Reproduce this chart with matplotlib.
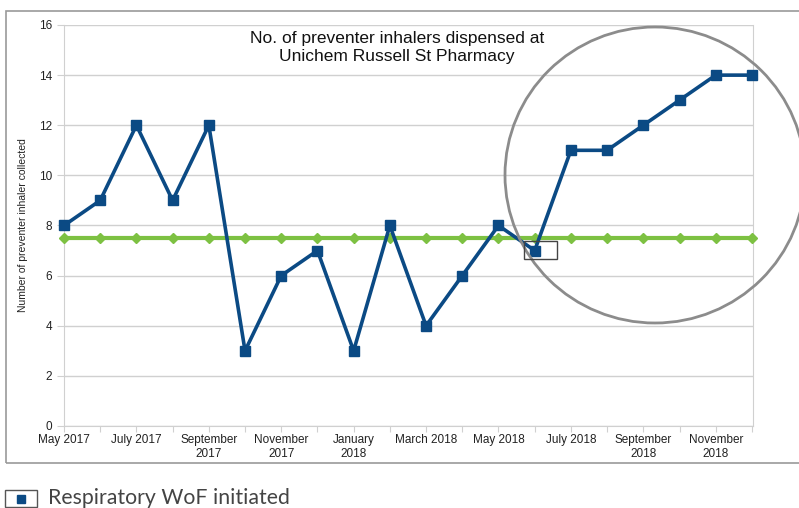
import matplotlib.pyplot as plt
from matplotlib.patches import Ellipse, Rectangle
from matplotlib.lines import Line2D

months = ["May 2017", "Jun 2017", "July 2017", "Aug 2017", "September\n2017", "Oct 2017",
          "November\n2017", "Dec 2017", "January\n2018", "Feb 2018", "March 2018", "Apr 2018",
          "May 2018", "Jun 2018", "July 2018", "Aug 2018", "September\n2018", "Oct 2018",
          "November\n2018", "Dec 2018"]
inhalers = [8, 9, 12, 9, 12, 3, 6, 7, 3, 8, 4, 6, 8, 7, 11, 11, 12, 13, 14, 14]
median = [7.5] * len(months)

BLUE = "#0b4a84"
GREEN = "#7dc142"
GRID = "#d0d0d0"

plt.rcParams["font.family"] = ["Liberation Sans", "DejaVu Sans"]

fig = plt.figure(figsize=(7.99, 5.08), dpi=100)
W, H = 799, 508
ax = fig.add_axes([64 / W, (H - 426) / H, (753 - 64) / W, (426 - 25) / H])

x = list(range(len(months)))
ax.plot(x, median, color=GREEN, lw=3, marker="D", ms=5.5, zorder=3, clip_on=False)
ax.plot(x, inhalers, color=BLUE, lw=2.6, marker="s", ms=6.5, zorder=4, clip_on=False)

ax.set_xlim(0, 19.03)
ax.set_ylim(0, 16)
ax.set_yticks(range(0, 17, 2))
ax.set_xticks(x)
ax.set_xticklabels([m if i % 2 == 0 else "" for i, m in enumerate(months)], fontsize=8.5,
                   color="#222222")
ax.tick_params(axis="y", labelsize=8.5, colors="#222222", length=5, color=GRID)
ax.tick_params(axis="x", length=4, color=GRID, pad=2)
ax.grid(axis="y", color=GRID, lw=1)
ax.set_axisbelow(True)
for s in ["left", "bottom", "right"]:
    ax.spines[s].set_color(GRID)
ax.spines["top"].set_visible(False)
ax.set_ylabel("Number of preventer inhaler collected", fontsize=7.5, color="#222222",
              labelpad=8)

fig.text(397 / W, 1 - 47 / H, "No. of preventer inhalers dispensed at\nUnichem Russell St Pharmacy",
         ha="center", va="center", fontsize=12.5, color="#111111", linespacing=1.25)

# outer chart frame
fig.patches.append(Rectangle((6 / W, (H - 463) / H), 800 / W, (463 - 11) / H,
                             transform=fig.transFigure, fill=False, ec="#9a9a9a", lw=1.2))

# highlight circle and box
fig.patches.append(Ellipse((655 / W, 1 - 175 / H), 300 / W, 296 / H, transform=fig.transFigure,
                           fill=False, ec="#8c8c8c", lw=2, zorder=10))
fig.patches.append(Rectangle((524 / W, 1 - 259 / H), 33 / W, 18 / H, transform=fig.transFigure,
                             fill=False, ec="#444444", lw=1, zorder=10))

# legend-like caption
fig.patches.append(Rectangle((5 / W, 1 - 507 / H), 32 / W, 17 / H, transform=fig.transFigure,
                             fill=False, ec="#555555", lw=1))
fig.lines.append(Line2D([21 / W], [1 - 498.5 / H], transform=fig.transFigure, marker="s",
                        ms=5.5, color=BLUE, ls="none"))
fig.text(48 / W, 1 - 498 / H, "Respiratory WoF initiated", fontsize=15.3, color="#444444",
         va="center", family=["Lato", "DejaVu Sans"])

fig.savefig("out.png", dpi=100)
